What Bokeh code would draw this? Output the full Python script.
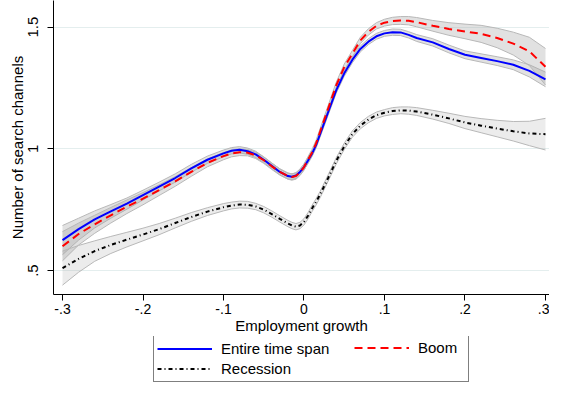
from bokeh.plotting import figure
from bokeh.layouts import column
from bokeh.models import ColumnDataSource, FixedTicker, Legend, LegendItem, Range1d
from bokeh.embed import file_html
from bokeh.resources import INLINE

# ---- data ----
emp_growth = [-0.30, -0.28, -0.26, -0.24, -0.22, -0.20, -0.18, -0.16, -0.14, -0.12,
              -0.10, -0.09, -0.08, -0.07, -0.06, -0.05, -0.04, -0.03, -0.02, -0.015,
              -0.01, -0.005, 0.0, 0.005, 0.01, 0.015, 0.02, 0.03, 0.04, 0.05,
              0.06, 0.07, 0.08, 0.09, 0.10, 0.11, 0.12, 0.13, 0.14, 0.16,
              0.18, 0.20, 0.22, 0.24, 0.26, 0.28, 0.30]

entire = [0.625, 0.67, 0.71, 0.743, 0.775, 0.81, 0.845, 0.88, 0.92, 0.955,
          0.981, 0.992, 0.996, 0.99, 0.977, 0.955, 0.93, 0.905, 0.888, 0.885,
          0.89, 0.905, 0.925, 0.952, 0.98, 1.015, 1.06, 1.15, 1.24, 1.31,
          1.365, 1.41, 1.44, 1.462, 1.474, 1.479, 1.478, 1.468, 1.455, 1.437,
          1.41, 1.386, 1.373, 1.36, 1.345, 1.32, 1.285]
entire_lo = [0.565, 0.625, 0.675, 0.715, 0.752, 0.79, 0.827, 0.863, 0.904, 0.94,
             0.967, 0.979, 0.983, 0.977, 0.964, 0.943, 0.918, 0.893, 0.876, 0.873,
             0.878, 0.893, 0.913, 0.94, 0.968, 1.003, 1.048, 1.138, 1.228, 1.298,
             1.353, 1.398, 1.428, 1.45, 1.462, 1.466, 1.465, 1.455, 1.441, 1.422,
             1.394, 1.37, 1.356, 1.342, 1.325, 1.295, 1.255]
entire_hi = [0.685, 0.715, 0.745, 0.771, 0.798, 0.83, 0.863, 0.897, 0.936, 0.97,
             0.995, 1.005, 1.009, 1.003, 0.99, 0.967, 0.942, 0.917, 0.90, 0.897,
             0.902, 0.917, 0.937, 0.964, 0.992, 1.027, 1.072, 1.162, 1.252, 1.322,
             1.377, 1.422, 1.452, 1.474, 1.486, 1.492, 1.491, 1.481, 1.469, 1.452,
             1.426, 1.402, 1.39, 1.378, 1.365, 1.345, 1.315]

boom = [0.60, 0.65, 0.69, 0.727, 0.762, 0.795, 0.83, 0.866, 0.905, 0.942,
        0.97, 0.981, 0.986, 0.984, 0.973, 0.953, 0.928, 0.905, 0.888, 0.884,
        0.888, 0.903, 0.925, 0.955, 0.985, 1.022, 1.07, 1.165, 1.26, 1.335,
        1.39, 1.445, 1.48, 1.505, 1.518, 1.525, 1.527, 1.526, 1.52, 1.505,
        1.492, 1.482, 1.472, 1.455, 1.432, 1.40, 1.337]
boom_lo = [0.54, 0.605, 0.653, 0.695, 0.734, 0.77, 0.808, 0.846, 0.887, 0.926,
           0.955, 0.967, 0.972, 0.971, 0.96, 0.94, 0.915, 0.892, 0.875, 0.871,
           0.875, 0.89, 0.912, 0.942, 0.972, 1.009, 1.057, 1.152, 1.247, 1.322,
           1.377, 1.432, 1.467, 1.492, 1.504, 1.51, 1.511, 1.509, 1.501, 1.483,
           1.466, 1.452, 1.437, 1.415, 1.385, 1.342, 1.262]
boom_hi = [0.66, 0.695, 0.727, 0.759, 0.79, 0.82, 0.852, 0.886, 0.923, 0.958,
           0.985, 0.995, 1.0, 0.997, 0.986, 0.966, 0.941, 0.918, 0.901, 0.897,
           0.901, 0.916, 0.938, 0.968, 0.998, 1.035, 1.083, 1.178, 1.273, 1.348,
           1.403, 1.458, 1.493, 1.518, 1.532, 1.54, 1.543, 1.543, 1.539, 1.527,
           1.518, 1.512, 1.507, 1.495, 1.479, 1.458, 1.412]

recession = [0.51, 0.548, 0.58, 0.605, 0.627, 0.648, 0.67, 0.695, 0.72, 0.742,
             0.76, 0.767, 0.771, 0.77, 0.763, 0.75, 0.732, 0.712, 0.693, 0.685,
             0.68, 0.685, 0.70, 0.725, 0.755, 0.782, 0.812, 0.88, 0.95, 1.01,
             1.06, 1.095, 1.12, 1.138, 1.148, 1.155, 1.158, 1.157, 1.153, 1.14,
             1.125, 1.108, 1.095, 1.083, 1.072, 1.063, 1.06]
recession_lo = [0.44, 0.493, 0.538, 0.57, 0.597, 0.622, 0.647, 0.675, 0.702, 0.726,
                0.745, 0.753, 0.757, 0.756, 0.75, 0.737, 0.719, 0.699, 0.68, 0.672,
                0.667, 0.672, 0.687, 0.712, 0.742, 0.769, 0.799, 0.867, 0.937, 0.997,
                1.047, 1.082, 1.107, 1.125, 1.135, 1.141, 1.144, 1.142, 1.137, 1.122,
                1.104, 1.083, 1.066, 1.049, 1.032, 1.013, 0.995]
recession_hi = [0.58, 0.603, 0.622, 0.64, 0.657, 0.674, 0.693, 0.715, 0.738, 0.758,
                0.775, 0.781, 0.785, 0.784, 0.776, 0.763, 0.745, 0.725, 0.706, 0.698,
                0.693, 0.698, 0.713, 0.738, 0.768, 0.795, 0.825, 0.893, 0.963, 1.023,
                1.073, 1.108, 1.133, 1.151, 1.161, 1.169, 1.172, 1.172, 1.169, 1.158,
                1.146, 1.133, 1.124, 1.117, 1.112, 1.113, 1.125]

x_ticks = [-0.3, -0.2, -0.1, 0.0, 0.1, 0.2, 0.3]
x_tick_labels = ["-.3", "-.2", "-.1", "0", ".1", ".2", ".3"]
y_ticks = [0.5, 1.0, 1.5]
y_tick_labels = [".5", "1", "1.5"]

series_labels = ["Entire time span", "Boom", "Recession"]

# ---- styles ----
FONT = "Liberation Sans"
BLUE = dict(line_color="#0000ff", line_width=2)
RED = dict(line_color="#ff0000", line_width=2, line_dash="8 5")
BLACK = dict(line_color="black", line_width=2, line_dash="4 3 1 3")

src = ColumnDataSource(dict(x=emp_growth, entire=entire, entire_lo=entire_lo, entire_hi=entire_hi,
                            boom=boom, boom_lo=boom_lo, boom_hi=boom_hi,
                            rec=recession, rec_lo=recession_lo, rec_hi=recession_hi))

X_RANGE = (-0.3112, 0.305)

# ---- main plot ----
p = figure(width=549, height=336, output_backend="svg", toolbar_location=None,
           x_range=Range1d(*X_RANGE), y_range=Range1d(0.4016, 1.609),
           min_border_left=53, min_border_right=0, min_border_top=0, min_border_bottom=0)
p.outline_line_color = None
p.background_fill_color = "white"
p.border_fill_color = "white"

band_fill = "#a8a8a8"
band_line = "#b8b8b8"
for lo, hi, alpha in [("entire_lo", "entire_hi", 0.35), ("boom_lo", "boom_hi", 0.35), ("rec_lo", "rec_hi", 0.22)]:
    p.varea(x="x", y1=lo, y2=hi, source=src, fill_color=band_fill, fill_alpha=alpha)
    p.line(x="x", y=lo, source=src, line_color=band_line, line_width=1)
    p.line(x="x", y=hi, source=src, line_color=band_line, line_width=1)

p.line(x="x", y="entire", source=src, **BLUE)
p.line(x="x", y="boom", source=src, **RED)
p.line(x="x", y="rec", source=src, **BLACK)

for ax in (p.xaxis[0], p.yaxis[0]):
    ax.axis_line_color = "black"
    ax.major_tick_line_color = "black"
    ax.major_tick_in = 0
    ax.major_tick_out = 6
    ax.minor_tick_line_color = None
    ax.major_label_text_font = FONT
    ax.major_label_text_font_size = "14px"
    ax.major_label_text_color = "black"
    ax.axis_label_text_font = FONT
    ax.axis_label_text_font_size = "15px"
    ax.axis_label_text_font_style = "normal"
    ax.axis_label_text_color = "black"

p.xaxis.ticker = FixedTicker(ticks=x_ticks)
p.xaxis.major_label_overrides = dict(zip(x_ticks, x_tick_labels))
p.xaxis.axis_label = "Employment growth"
p.xaxis.major_label_standoff = 3
p.xaxis.axis_label_standoff = 0

p.yaxis.ticker = FixedTicker(ticks=y_ticks)
p.yaxis.major_label_overrides = dict(zip(y_ticks, y_tick_labels))
p.yaxis.major_label_orientation = "vertical"
p.yaxis.major_label_text_font_size = "15px"
p.yaxis.axis_label = "Number of search channels"
p.yaxis.major_label_standoff = 9
p.yaxis.axis_label_standoff = 0

p.xgrid.visible = False
p.ygrid.ticker = FixedTicker(ticks=y_ticks)
p.ygrid.grid_line_color = "#e4eeee"
p.ygrid.grid_line_width = 1

# ---- legend strip (same borders as the main plot; data kept out of view) ----
leg = figure(width=549, height=46, output_backend="svg", toolbar_location=None,
             x_range=Range1d(*X_RANGE), y_range=Range1d(10, 11),
             min_border_left=53, min_border_right=0, min_border_top=0, min_border_bottom=0)
leg.axis.visible = False
leg.grid.visible = False
leg.outline_line_color = None
leg.background_fill_color = "white"
leg.border_fill_color = "white"

g_blue = leg.line(x="x", y="entire", source=src, **BLUE)
g_red = leg.line(x="x", y="boom", source=src, **RED)
g_black = leg.line(x="x", y="rec", source=src, **BLACK)


def style_legend(lg):
    lg.label_text_font = FONT
    lg.label_text_font_size = "15px"
    lg.label_text_color = "black"
    lg.glyph_width = 55
    lg.glyph_height = 19
    lg.label_height = 19
    lg.label_standoff = 9
    lg.spacing = 1
    lg.padding = 3
    lg.margin = 0


# box + left column of entries
leg_a = Legend(items=[LegendItem(label=series_labels[0], renderers=[g_blue]),
                      LegendItem(label=series_labels[2], renderers=[g_black])],
               location=(100, 0))
style_legend(leg_a)
leg_a.label_width = 244
leg_a.border_line_color = "black"
leg_a.border_line_width = 1
leg_a.background_fill_color = "white"
leg_a.background_fill_alpha = 1

# right column entry drawn inside the same box
leg_b = Legend(items=[LegendItem(label=series_labels[1], renderers=[g_red])],
               location=(301, 25))
style_legend(leg_b)
leg_b.border_line_color = None
leg_b.background_fill_alpha = 0

leg.add_layout(leg_a, "center")
leg.add_layout(leg_b, "center")

layout = column(p, leg, spacing=0)
open("out.html", "w").write(file_html(layout, INLINE))
